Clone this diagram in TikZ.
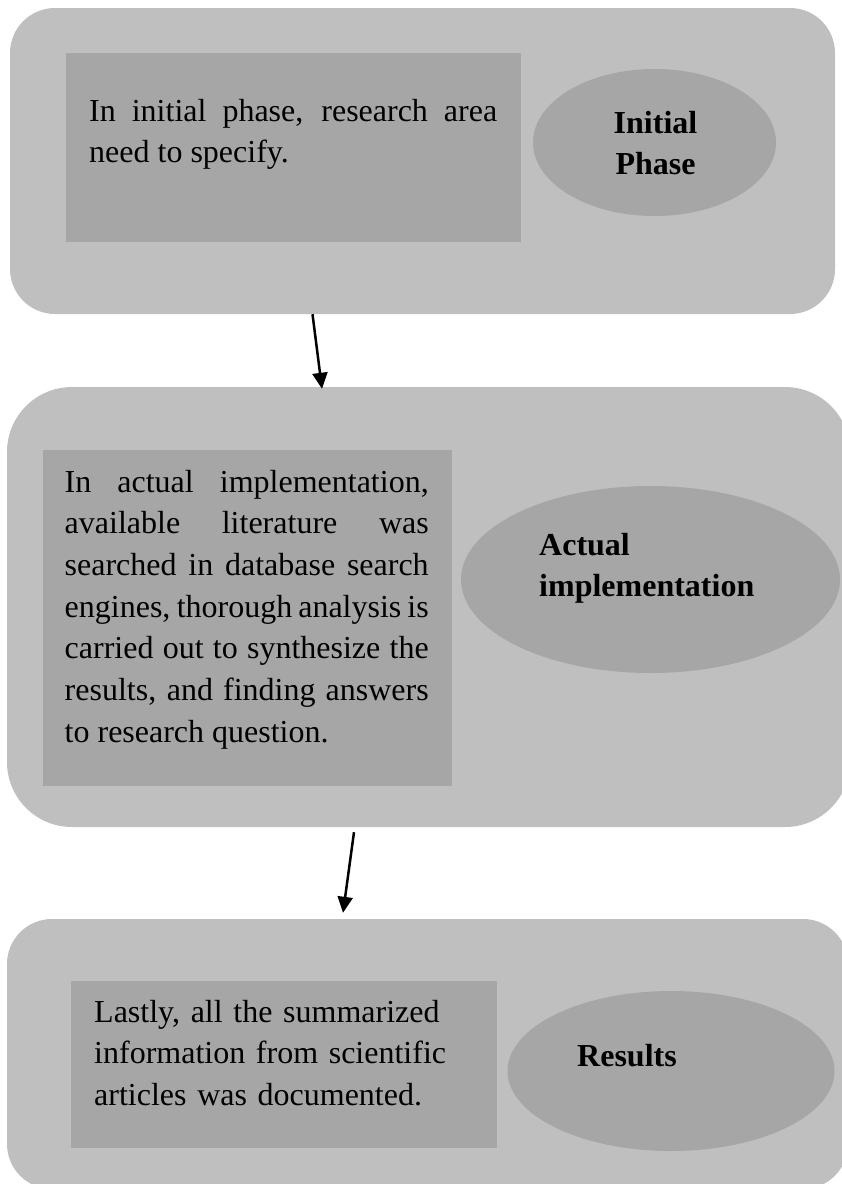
\documentclass[tikz,border=0pt]{standalone}
\usepackage{fontspec}
\setmainfont{Liberation Serif}
\usetikzlibrary{positioning}
\usetikzlibrary{shapes}
\usetikzlibrary{arrows.meta}
\definecolor{boxgray}{HTML}{BFBFBF}
\definecolor{fillgray}{HTML}{A6A6A6}
\tikzset{
  outerbox/.style={rectangle, rounded corners=45pt, fill=boxgray, inner sep=0pt},
  innerbox/.style={rectangle, fill=fillgray, inner sep=0pt},
  phase/.style={ellipse, fill=fillgray, inner sep=0pt},
  desc/.style={inner sep=0pt, anchor=base west, font=\fontsize{32pt}{41.7pt}\selectfont},
  title/.style={inner sep=0pt, font=\fontsize{32pt}{41.7pt}\selectfont\bfseries},
  flow/.style={line width=2.5pt, -{Triangle[length=16pt,width=15pt]}}
}
\begin{document}
\begin{tikzpicture}[x=1pt,y=-1pt]
%page
\useasboundingbox (0,0) rectangle (842,1184);
%initial phase
\node[outerbox, minimum width=825pt, minimum height=306pt] (initbox) at (422.5,161) {};
\node[innerbox, minimum width=455pt, minimum height=189pt] (initrect) at (293.5,147.5) {};
\node[phase, minimum width=243pt, minimum height=147pt] (initoval) at (654.5,142.5) {};
\node[desc, text width=408pt, align=justify] (initdesc) at (89,121)
  {In initial phase, research area\linebreak need to specify.};
\node[title, anchor=base, text width=120pt, align=center] (inittitle) at (655.5,133) {Initial\\Phase};
%actual implementation
\node[outerbox, rounded corners=65pt, minimum width=843pt, minimum height=440pt] (implbox) at (428.5,607) {};
\node[innerbox, minimum width=409pt, minimum height=336pt] (implrect) at (247.5,618) {};
\node[phase, minimum width=379pt, minimum height=187pt] (imploval) at (650.5,579.5) {};
\node[desc, text width=364pt, align=justify] (impldesc) at (64.5,492)
  {In actual implementation,\linebreak available literature was\linebreak
   searched in database search\linebreak engines, thorough analysis is\linebreak
   carried out to synthesize the\linebreak results, and finding answers\linebreak
   to research question.};
\node[title, anchor=base west, text width=230pt, align=left] (impltitle) at (539,555) {Actual\\implementation};
%results
\node[outerbox, minimum width=841pt, minimum height=270pt] (resbox) at (427.5,1054) {};
\node[innerbox, minimum width=426pt, minimum height=167pt] (resrect) at (284,1064.5) {};
\node[phase, minimum width=327pt, minimum height=160pt] (resoval) at (671,1071) {};
\node[desc, text width=400pt, align=left] (resdesc) at (94,1022)
  {Lastly, all the summarized\\information from scientific\\articles was documented.};
\node[title, anchor=base west] (restitle) at (577,1066) {Results};
%arrows
\draw[flow] ([xshift=-110pt]initbox.south) -- ([xshift=-106.5pt,yshift=-2pt]implbox.north);
\draw[flow] ([xshift=-74.5pt,yshift=-5pt]implbox.south) -- ([xshift=-84.5pt,yshift=6pt]resbox.north);
\end{tikzpicture}
\end{document}
